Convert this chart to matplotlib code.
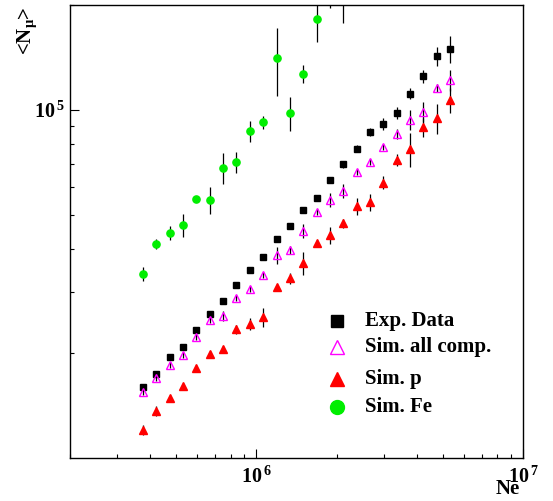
"""Mean muon number versus shower size Ne: data against simulated primaries."""
import numpy as np
import matplotlib
matplotlib.use("Agg")
from matplotlib import pyplot as plt
from matplotlib.ticker import FixedLocator, LogLocator, NullFormatter

# log10(Ne) bin centres
log_ne = [5.575, 5.625, 5.675, 5.725, 5.775, 5.825, 5.875, 5.925,
          5.975, 6.025, 6.075, 6.125, 6.175, 6.225, 6.275, 6.325,
          6.375, 6.425, 6.475, 6.525, 6.575, 6.625, 6.675, 6.725]

exp_nmu = [15970, 17430, 19550, 20880, 23320, 25980, 28310, 31350,
           34630, 37730, 42590, 46490, 51500, 55850, 63050, 69820,
           77410, 86470, 91340, 98220, 111400, 125000, 142700, 149400]
exp_err = [300, 320, 350, 380, 420, 470, 510, 570, 630, 700, 800, 900,
           1000, 1100, 1300, 1500, 1700, 2100, 3700, 3900, 4100, 5500,
           9300, 13400]

all_nmu = [15510, 17010, 18500, 19810, 22320, 24930, 25640, 28880,
           30660, 33630, 38240, 39600, 44900, 50930, 55120, 58630,
           66220, 71010, 78440, 85310, 93610, 98880, 115700, 121900]
all_err = [310, 340, 370, 400, 450, 500, 860, 580, 610, 670, 2080, 1080,
           2130, 1020, 2610, 2780, 1320, 1420, 1570, 2870, 6080, 6760,
           3100, 8340]

p_nmu = [12090, 13650, 14910, 16100, 18220, 19900, 20570, 23430,
         24320, 25370, 30940, 32840, 36410, 41560, 43730, 47240,
         52880, 54390, 61810, 71820, 77260, 89200, 94650, 106800]
p_err = [410, 460, 300, 320, 360, 400, 410, 630, 990, 1560, 620, 1100,
         2750, 830, 2380, 1280, 2880, 2960, 2720, 2910, 8620, 5480,
         9180, 8820]

# iron runs out of statistics after 16 bins
fe_nmu = [33860, 41210, 44400, 46700, 55580, 55200, 68130, 70880,
          87010, 92200, 140800, 98220, 126900, 182600, 225000, 250000]
fe_err = [1600, 1400, 2100, 3500, 600, 5000, 6900, 4800, 6000, 4000,
          31000, 11000, 7300, 26000, 29000, 73000]

legend_labels = ["Exp. Data", "Sim. all comp.", "Sim. p", "Sim. Fe"]
x_tick_vals = [1e6, 1e7]
x_tick_labels = [r"$\mathbf{10^{\,6}}$", r"$\mathbf{10^{\,7}}$"]
y_tick_vals = [1e5]
y_tick_labels = [r"$\mathbf{10^{\,5}}$"]

plt.rcParams["font.family"] = ["Liberation Serif", "DejaVu Serif"]
plt.rcParams["font.weight"] = "bold"
plt.rcParams["mathtext.fontset"] = "custom"
plt.rcParams["mathtext.rm"] = "Liberation Serif:bold"
plt.rcParams["mathtext.bf"] = "Liberation Serif:bold"
plt.rcParams["mathtext.it"] = "Liberation Serif:bold"

ne = 10 ** np.array(log_ne)

fig = plt.figure(figsize=(5.53, 5.01), dpi=100)
ax = fig.add_axes([70 / 553, 1 - 458.3 / 501, 453.3 / 553, 453.3 / 501])
ax.set_xscale("log")
ax.set_yscale("log")
ax.set_xlim(2e5, 1e7)
ax.set_ylim(1e4, 2e5)

ms = 5.2
ebar = dict(ecolor="black", elinewidth=0.9, capsize=0, linestyle="none")
ax.errorbar(ne[:len(fe_nmu)], fe_nmu, yerr=fe_err, marker="o", ms=ms,
            mfc="#00ee00", mec="#00ee00", zorder=3, **ebar)
ax.errorbar(ne, exp_nmu, yerr=exp_err, marker="s", ms=ms - 0.4,
            mfc="black", mec="black", zorder=3, **ebar)
ax.errorbar(ne, all_nmu, yerr=all_err, marker="^", ms=ms + 0.4,
            mfc="none", mec="#ff00ff", mew=1.0, zorder=4, **ebar)
ax.errorbar(ne, p_nmu, yerr=p_err, marker="^", ms=ms,
            mfc="red", mec="red", zorder=3, **ebar)

# hand-placed legend, ROOT style rows
styles = [dict(marker="s", ms=9, mfc="black", mec="black"),
          dict(marker="^", ms=10, mfc="none", mec="#ff00ff", mew=1.0),
          dict(marker="^", ms=10, mfc="red", mec="red"),
          dict(marker="o", ms=10, mfc="#00ee00", mec="#00ee00")]
rows = [0.3036, 0.2462, 0.1743, 0.1125]
for lab, st, yy in zip(legend_labels, styles, rows):
    ax.plot([0.5884], [yy], transform=ax.transAxes, linestyle="none",
            clip_on=False, **st)
    ax.text(0.6508, yy, lab, transform=ax.transAxes, fontsize=15,
            fontweight="bold", va="center", ha="left")

ax.xaxis.set_major_locator(FixedLocator(x_tick_vals))
ax.set_xticklabels(x_tick_labels)
ax.xaxis.set_minor_locator(LogLocator(base=10, subs=np.arange(2, 10)))
ax.xaxis.set_minor_formatter(NullFormatter())
ax.yaxis.set_major_locator(FixedLocator(y_tick_vals))
ax.set_yticklabels(y_tick_labels)
ax.yaxis.set_minor_locator(LogLocator(base=10, subs=np.arange(2, 10)))
ax.yaxis.set_minor_formatter(NullFormatter())

ax.tick_params(which="both", direction="in", top=False, right=False,
               labelsize=14.5, width=0.8)
ax.tick_params(which="major", length=6.5)
ax.tick_params(which="minor", length=3.2)
ax.tick_params(axis="x", pad=6)
ax.tick_params(axis="y", pad=4)
for sp in ax.spines.values():
    sp.set_linewidth(1.0)

fig.text(520 / 553, 1 - 499 / 501, "Ne", fontsize=15, fontweight="bold",
         ha="right", va="bottom")
fig.text(27 / 553, 1 - 6 / 501, r"<N$_{\mu}$>", fontsize=15,
         fontweight="bold", rotation=90, ha="center", va="top")

plt.savefig("out.png", dpi=100)
plt.close()
